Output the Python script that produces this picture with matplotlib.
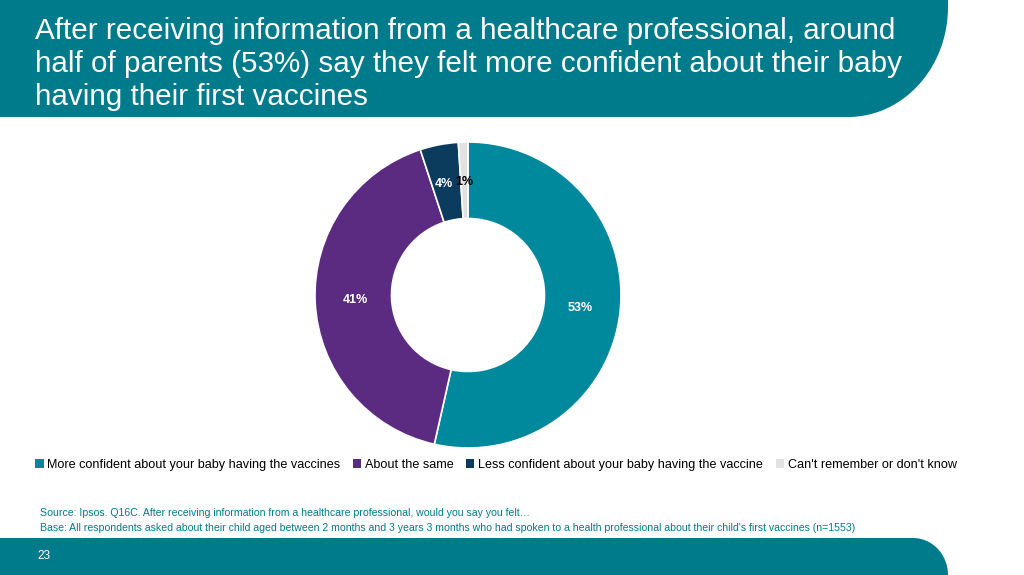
import numpy as np
import matplotlib
matplotlib.use("Agg")
import matplotlib.pyplot as plt
from matplotlib.patches import Polygon, Patch

# datos del gráfico
categorias = ["More confident about your baby having the vaccines",
              "About the same",
              "Less confident about your baby having the vaccine",
              "Can't remember or don't know"]
valores = [53, 41, 4, 1]
etiquetas = ["53%", "41%", "4%", "1%"]
colores = ["#00899c", "#5b2b82", "#0b3c5d", "#e2e2e2"]
color_etiqueta = ["white", "white", "white", "black"]

titulo = ("After receiving information from a healthcare professional, around\n"
          "half of parents (53%) say they felt more confident about their baby\n"
          "having their first vaccines")
fuente = "Source: Ipsos. Q16C. After receiving information from a healthcare professional, would you say you felt…"
base = ("Base: All respondents asked about their child aged between 2 months and 3 years 3 months "
        "who had spoken to a health professional about their child's first vaccines (n=1553)")
pagina = "23"

TEAL = "#007b8b"
W, H = 1024, 575

plt.rcParams['font.family'] = ['Liberation Sans', 'DejaVu Sans']
fig = plt.figure(figsize=(W / 100, H / 100), dpi=100)


def forma_redondeada(x0, x1, y0, y1, rx, ry, esquina):
    # rectángulo (en píxeles, y hacia abajo) con una esquina derecha redondeada
    t = np.linspace(0, np.pi / 2, 40)
    if esquina == "abajo":
        arco = [(x1 - rx + rx * np.cos(a), y1 - ry + ry * np.sin(a)) for a in t]
        pts = [(x0, y0), (x1, y0)] + arco + [(x0, y1)]
    else:
        arco = [(x1 - rx + rx * np.sin(a), y0 + ry - ry * np.cos(a)) for a in t]
        pts = [(x0, y0)] + arco + [(x1, y1), (x0, y1)]
    pts = [(x / W, 1 - y / H) for x, y in pts]
    return Polygon(pts, closed=True, transform=fig.transFigure, facecolor=TEAL,
                   edgecolor="none", zorder=0)


fig.patches.append(forma_redondeada(0, 948, 0, 117, 100, 110, "abajo"))
fig.patches.append(forma_redondeada(0, 948, 538, 575, 35, 37, "arriba"))

fig.text(35 / W, 1 - 17 / H, titulo, color="white", fontsize=21.3, va="top", ha="left",
         linespacing=1.22)

# donut
cx, cy, r = 468, 295, 153
ax = fig.add_axes([(cx - r) / W, 1 - (cy + r) / H, 2 * r / W, 2 * r / H])
wedges, _ = ax.pie(valores, colors=colores, startangle=90, counterclock=False,
                   radius=1, wedgeprops=dict(width=0.5, edgecolor="white", linewidth=1.2))
ax.set_xlim(-1, 1)
ax.set_ylim(-1, 1)
ax.set_aspect("equal")

total = sum(valores)
ang = 90.0
for v, lab, c in zip(valores, etiquetas, color_etiqueta):
    mid = ang - 360 * v / total / 2
    ang -= 360 * v / total
    rr = 0.74
    x, y = rr * np.cos(np.radians(mid)), rr * np.sin(np.radians(mid))
    if lab == "4%":
        x -= 0.02
    ax.text(x, y, lab, color=c, fontsize=9, fontweight="bold", ha="center", va="center")

handles = [Patch(facecolor=c, edgecolor="none") for c in colores]
fig.legend(handles, categorias, loc="center", bbox_to_anchor=(496 / W, 1 - 465 / H),
           ncol=4, frameon=False, fontsize=9.05, handlelength=0.65, handleheight=0.65,
           handletextpad=0.3, columnspacing=1.0)

fig.text(40 / W, 1 - 513 / H, fuente, color=TEAL, fontsize=7.6, va="center", ha="left")
fig.text(40 / W, 1 - 528 / H, base, color=TEAL, fontsize=7.6, va="center", ha="left")
fig.text(37 / W, 1 - 556 / H, pagina, color="white", fontsize=8.5, va="center", ha="left")

fig.savefig("out.png", dpi=100)
